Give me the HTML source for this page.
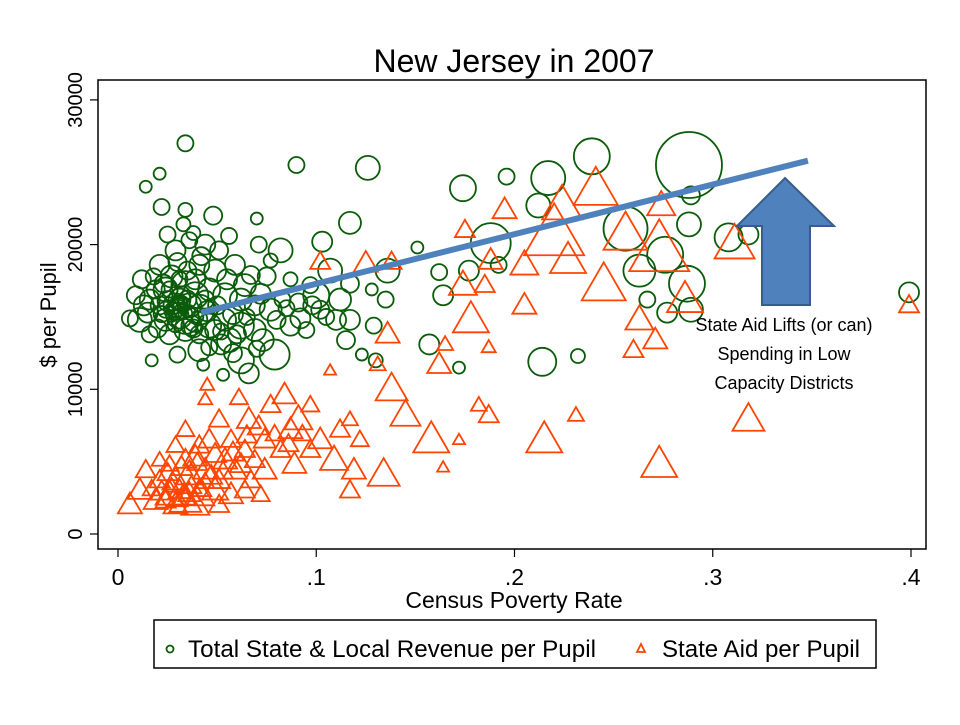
<!DOCTYPE html>
<html><head><meta charset="utf-8"><style>
body{margin:0;background:#fff;width:960px;height:720px;overflow:hidden;font-family:"Liberation Sans",sans-serif}
</style></head><body>
<svg id="chart" width="960" height="720" viewBox="0 0 960 720" xmlns="http://www.w3.org/2000/svg" font-family="Liberation Sans, sans-serif">
<rect width="960" height="720" fill="#fff"/>
<text x="514" y="72" font-size="32" text-anchor="middle">New Jersey in 2007</text>
<rect x="98" y="80" width="828" height="469" fill="none" stroke="#000" stroke-width="1.5"/>
<g id="axes"></g>
<g id="marks"></g>
<line id="trend" stroke="#4f81bd" stroke-width="6" stroke-linecap="butt"/>
<polygon points="762,305 810,305 810,226 834,226 785,178 737,226 762,226" fill="#4f81bd" stroke="#385d8a" stroke-width="2"/>
<g font-size="18" text-anchor="middle" fill="#000">
<text x="784" y="331">State Aid Lifts (or can)</text>
<text x="784" y="360">Spending in Low</text>
<text x="784" y="389">Capacity Districts</text>
</g>
<text x="514" y="608" font-size="23" text-anchor="middle">Census Poverty Rate</text>
<text transform="translate(56 315) rotate(-90)" font-size="22" text-anchor="middle">$ per Pupil</text>
<rect x="154" y="620" width="722" height="48" fill="#fff" stroke="#000" stroke-width="1.5"/>
<circle cx="170" cy="649" r="3.5" fill="none" stroke="#0a5c0a" stroke-width="1.8"/>
<text x="188" y="657" font-size="24" textLength="408" lengthAdjust="spacingAndGlyphs">Total State &amp; Local Revenue per Pupil</text>
<polygon points="641,644 645,652 637,652" fill="none" stroke="#ff4500" stroke-width="1.8"/>
<text x="662" y="657" font-size="24" textLength="198" lengthAdjust="spacingAndGlyphs">State Aid per Pupil</text>
</svg>
<script>
const xTicks=[0,0.1,0.2,0.3,0.4];
const xTickLabels=["0",".1",".2",".3",".4"];
const yTicks=[0,10000,20000,30000];
const yTickLabels=["0","10000","20000","30000"];
// revenue: [poverty, $thousands, marker radius]
const revenue=[[.034,27.0,8],[.126,25.3,12],[.090,25.5,8],[.021,24.9,6],[.014,24.0,6],[.022,22.6,8],[.034,22.4,7],[.048,22.0,9],[.070,21.8,6],[.117,21.5,11],[.174,23.9,13],[.196,24.7,8],[.217,24.6,17],[.239,26.1,18],[.288,25.5,33],[.212,22.7,12],[.256,21.1,22],[.263,18.2,16],[.276,19.3,18],[.288,21.4,12],[.308,20.5,14],[.318,20.7,10],[.289,23.4,9],[.289,15.5,12],[.287,17.3,18],[.277,15.3,10],[.267,16.2,8],[.214,11.9,14],[.232,12.3,7],[.399,16.7,10],[.188,20.1,20],[.177,18.2,10],[.162,18.1,8],[.164,16.5,10],[.192,18.6,8],[.151,19.8,6],[.136,18.2,12],[.135,16.2,8],[.117,14.8,10],[.129,14.4,8],[.115,13.4,9],[.123,12.4,6],[.130,12.0,7],[.157,13.1,10],[.172,11.5,6],[.103,20.2,10],[.107,18.2,12],[.100,16.5,13],[.091,16.0,9],[.083,16.2,8],[.082,19.6,12],[.075,17.8,9],[.073,13.4,11],[.079,12.4,15],[.087,14.4,10],[.095,14.1,8],[.112,16.2,11],[.117,17.3,9],[.128,16.9,6],[.062,12.0,13],[.052,13.1,10],[.041,12.7,11],[.030,12.4,8],[.017,12.0,6],[.043,11.7,6],[.066,11.1,10],[.053,11.0,6],[.011,14.8,12],[.016,16.2,10],[.012,17.6,9],[.021,18.6,10],[.029,19.6,10],[.036,20.3,8],[.044,20.0,10],[.051,19.6,9],[.059,18.6,10],[.067,17.9,9],[.024,16.9,12],[.031,16.2,11],[.039,16.5,13],[.046,16.9,11],[.054,16.5,12],[.062,16.2,11],[.069,15.8,10],[.077,15.5,11],[.024,14.8,11],[.031,15.1,13],[.039,14.8,12],[.046,14.4,12],[.054,14.8,11],[.062,14.4,13],[.069,14.1,11],[.026,13.8,10],[.034,14.1,11],[.041,13.8,9],[.049,14.1,10],[.056,13.4,12],[.016,13.8,8],[.021,15.8,9],[.027,17.8,11],[.035,18.2,9],[.041,18.6,10],[.049,18.2,11],[.055,17.6,10],[.064,17.2,11],[.034,17.2,14],[.041,15.5,15],[.036,15.8,12],[.029,15.8,12],[.034,14.8,14],[.039,17.6,10],[.026,16.9,8],[.032,16.5,9],[.030,15.5,10],[.037,14.4,10],[.044,16.2,9],[.024,15.5,8],[.019,16.9,9],[.015,15.3,10],[.006,14.9,8],[.009,16.5,9],[.025,20.7,8],[.033,21.4,7],[.071,20.0,8],[.077,18.9,7],[.087,17.6,7],[.097,17.2,8],[.102,15.5,9],[.110,14.8,10],[.028,15.6,6],[.033,15.2,5],[.030,16.0,7],[.036,15.4,6],[.027,15.0,5],[.040,15.0,6],[.028,15.4,9],[.032,15.9,8],[.025,16.1,10],[.035,16.2,9],[.022,15.2,8],[.038,14.2,9],[.029,14.5,8],[.023,17.3,9],[.031,17.6,8],[.045,15.4,10],[.050,15.8,9],[.058,15.2,10],[.052,14.0,8],[.060,13.8,9],[.065,15.0,8],[.072,16.6,10],[.080,14.8,9],[.085,15.6,8],[.092,14.9,10],[.098,15.8,9],[.105,15.0,8],[.013,15.8,10],[.020,14.2,9],[.018,17.8,8],[.042,19.2,9],[.038,20.8,7],[.056,20.6,8],[.030,18.8,9],[.046,12.9,8],[.058,12.5,9],[.070,12.8,8]];
// state aid: [poverty, $thousands, marker half-width]
const aid=[[.241,23.8,22],[.224,22.7,20],[.195,22.4,12],[.256,20.7,22],[.274,22.7,14],[.273,19.6,30],[.245,17.2,22],[.220,20.7,30],[.205,18.6,14],[.227,18.9,18],[.311,20.0,20],[.286,16.2,18],[.399,15.8,10],[.263,14.8,14],[.271,13.4,12],[.260,12.7,10],[.175,21.0,10],[.188,18.9,12],[.174,17.2,14],[.185,17.2,10],[.178,14.8,18],[.205,15.8,12],[.165,13.1,8],[.187,12.9,7],[.162,11.7,12],[.102,18.8,10],[.125,18.7,12],[.138,18.8,10],[.136,13.8,12],[.131,11.7,8],[.107,11.3,6],[.215,6.5,18],[.273,4.8,18],[.318,7.9,16],[.231,8.2,8],[.187,8.2,10],[.182,8.9,8],[.158,6.5,18],[.164,4.6,6],[.172,6.5,6],[.145,8.2,15],[.138,10.0,16],[.134,4.1,16],[.117,3.0,10],[.119,4.4,12],[.109,5.1,14],[.102,6.5,12],[.091,7.9,14],[.084,9.6,12],[.077,8.9,10],[.066,7.9,12],[.061,9.4,9],[.051,7.9,10],[.044,9.3,7],[.045,10.3,7],[.097,5.8,10],[.089,4.8,12],[.082,5.8,10],[.074,4.4,12],[.067,3.7,10],[.059,4.4,12],[.051,3.7,11],[.112,7.2,10],[.122,6.5,9],[.117,7.9,8],[.097,8.9,9],[.087,7.2,12],[.074,6.5,11],[.064,5.8,10],[.057,6.5,10],[.049,5.5,11],[.041,6.1,10],[.034,7.2,9],[.029,6.1,9],[.021,5.1,8],[.014,4.4,10],[.011,3.0,12],[.006,2.0,12],[.019,2.3,12],[.026,2.7,14],[.034,2.3,16],[.041,2.7,15],[.049,3.0,13],[.057,2.7,12],[.064,3.0,10],[.072,2.7,9],[.029,3.7,13],[.036,4.1,14],[.044,4.4,12],[.021,3.7,10],[.039,5.3,12],[.046,6.5,11],[.054,5.1,12],[.062,4.8,11],[.069,5.1,10],[.034,5.1,11],[.026,4.8,9],[.039,2.0,14],[.029,2.0,12],[.024,2.3,10],[.051,2.0,10],[.031,3.0,11],[.037,3.3,10],[.044,3.6,9],[.027,3.3,8],[.033,2.6,12],[.030,2.4,10],[.036,2.8,11],[.042,3.1,10],[.047,4.0,11],[.053,4.3,10],[.058,5.6,11],[.065,6.8,10],[.071,7.4,11],[.079,6.9,9],[.086,6.2,10],[.093,6.9,9],[.017,3.1,9],[.022,2.9,11],[.025,4.2,10],[.032,4.6,11],[.040,4.9,10]];
const trendX=[0.042,0.348];
const trendY=[15.3,25.8];
const NS="http://www.w3.org/2000/svg";
const X=v=>118+v*1982.5;
const Y=v=>534-v*14.47; // v in $thousands
function mk(tag,attrs,parent){const e=document.createElementNS(NS,tag);for(const k in attrs)e.setAttribute(k,attrs[k]);parent.appendChild(e);return e;}
const ax=document.getElementById('axes');
xTicks.forEach((t,i)=>{
  const l=mk('line',{x1:X(t),x2:X(t),y1:549,y2:557,stroke:'#000','stroke-width':1.2},ax);
  
  
  const tx=mk('text',{x:X(t),y:585,'font-size':23,'text-anchor':'middle'},ax);
  tx.textContent=xTickLabels[i];
  
  
});
yTicks.forEach((t,i)=>{
  const y=Y(t/1000);
  const l=mk('line',{x1:90,x2:98,y1:y,y2:y,stroke:'#000','stroke-width':1.2},ax);
  
  
  const tx=mk('text',{transform:`translate(82 ${y}) rotate(-90)`,'font-size':20,'text-anchor':'middle'},ax);
  tx.textContent=yTickLabels[i];
  
  
});
const mg=document.getElementById('marks');
revenue.forEach(d=>{
  const c=mk('circle',{cx:X(d[0]),cy:Y(d[1]),r:d[2],fill:'none',stroke:'#0a5c0a','stroke-width':1.8},mg);
  
  
});
aid.forEach(d=>{
  const cx=X(d[0]),cy=Y(d[1]),s=d[2],h=s*1.73;
  const p=mk('polygon',{points:`${cx},${cy-h*0.6} ${cx+s},${cy+h*0.4} ${cx-s},${cy+h*0.4}`,fill:'none',stroke:'#ff4500','stroke-width':1.8},mg);
  
  
});
const tl=document.getElementById('trend');
tl.setAttribute('x1',X(trendX[0]));tl.setAttribute('y1',Y(trendY[0]));
tl.setAttribute('x2',X(trendX[1]));tl.setAttribute('y2',Y(trendY[1]));
</script>
</body></html>
